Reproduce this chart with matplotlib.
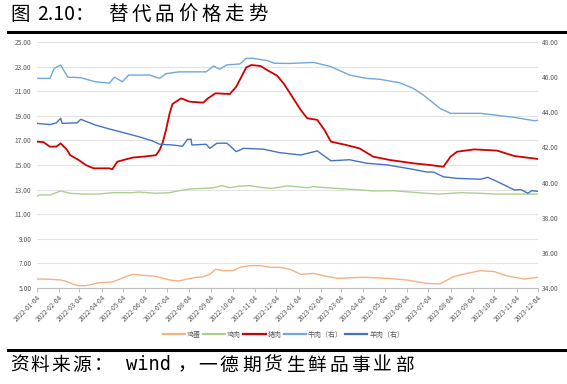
import pandas as pd
import matplotlib
matplotlib.use("Agg")
import matplotlib.pyplot as plt
from matplotlib.lines import Line2D

plt.rcParams['font.family'] = ['Noto Sans CJK SC', 'DejaVu Sans']

# values
egg_dates = ["2022-01-04", "2022-01-22", "2022-02-06", "2022-02-15", "2022-02-24", "2022-03-03",
             "2022-03-13", "2022-03-22", "2022-03-31", "2022-04-19", "2022-04-29", "2022-05-08",
             "2022-05-17", "2022-05-26", "2022-06-14", "2022-06-24", "2022-07-08", "2022-07-21",
             "2022-07-31", "2022-08-15", "2022-08-24", "2022-09-02", "2022-09-10", "2022-09-21",
             "2022-10-05", "2022-10-14", "2022-10-28", "2022-11-12", "2022-11-26", "2022-12-09",
             "2022-12-23", "2023-01-07", "2023-01-25", "2023-02-09", "2023-02-27", "2023-04-04",
             "2023-05-07", "2023-06-04", "2023-07-01", "2023-07-20", "2023-08-08", "2023-08-27",
             "2023-09-15", "2023-10-04", "2023-10-22", "2023-11-15", "2023-12-04"]
egg = [5.73, 5.71, 5.65, 5.51, 5.30, 5.19, 5.19, 5.30, 5.43, 5.49, 5.71, 5.92,
       6.11, 6.06, 5.98, 5.87, 5.65, 5.57, 5.71, 5.87, 5.92, 6.11, 6.52, 6.41,
       6.41, 6.68, 6.82, 6.82, 6.68, 6.68, 6.52, 6.11, 6.19, 5.98, 5.79, 5.87,
       5.79, 5.65, 5.38, 5.33, 5.92, 6.19, 6.41, 6.33, 5.98, 5.73, 5.87]

chicken_dates = ["2022-01-04", "2022-01-08", "2022-01-22", "2022-02-06", "2022-02-19", "2022-03-08",
                 "2022-03-31", "2022-04-19", "2022-05-17", "2022-05-26", "2022-06-19", "2022-07-08",
                 "2022-07-21", "2022-08-05", "2022-08-24", "2022-09-07", "2022-09-19", "2022-09-30",
                 "2022-10-14", "2022-10-28", "2022-11-12", "2022-11-26", "2022-12-09", "2022-12-18",
                 "2022-12-23", "2023-01-16", "2023-01-25", "2023-02-23", "2023-03-20", "2023-04-18",
                 "2023-05-16", "2023-06-13", "2023-07-01", "2023-07-20", "2023-08-18", "2023-09-15",
                 "2023-10-04", "2023-12-04"]
chicken = [12.48, 12.56, 12.56, 12.89, 12.70, 12.64, 12.64, 12.75, 12.75, 12.80, 12.70, 12.75,
           12.91, 13.05, 13.10, 13.15, 13.32, 13.15, 13.29, 13.32, 13.18, 13.10, 13.20, 13.29,
           13.29, 13.15, 13.24, 13.10, 13.02, 12.89, 12.91, 12.78, 12.70, 12.64, 12.75, 12.70,
           12.64, 12.64]

pork_dates = ["2022-01-04", "2022-01-13", "2022-01-22", "2022-01-31", "2022-02-06", "2022-02-15",
              "2022-02-19", "2022-03-03", "2022-03-13", "2022-03-24", "2022-04-15", "2022-04-19",
              "2022-04-26", "2022-05-17", "2022-06-05", "2022-06-19", "2022-06-24", "2022-06-28",
              "2022-07-03", "2022-07-08", "2022-07-12", "2022-07-24", "2022-08-05", "2022-08-24",
              "2022-08-30", "2022-09-10", "2022-09-30", "2022-10-09", "2022-10-23", "2022-10-30",
              "2022-11-12", "2022-11-21", "2022-12-05", "2022-12-14", "2022-12-23", "2023-01-07",
              "2023-01-16", "2023-01-30", "2023-02-09", "2023-02-18", "2023-03-11", "2023-03-30",
              "2023-04-18", "2023-05-11", "2023-06-13", "2023-07-06", "2023-07-25", "2023-08-04",
              "2023-08-13", "2023-09-06", "2023-10-08", "2023-11-01", "2023-12-04"]
pork = [16.90, 16.86, 16.49, 16.50, 16.76, 16.22, 15.81, 15.41, 15.00, 14.73, 14.73, 14.65,
        15.27, 15.60, 15.70, 15.80, 16.22, 16.76, 17.85, 19.20, 19.96, 20.42, 20.15, 20.07,
        20.40, 20.83, 20.77, 21.37, 22.94, 23.13, 23.05, 22.72, 22.26, 21.64, 20.83, 19.47,
        18.80, 18.67, 17.85, 16.90, 16.63, 16.35, 15.68, 15.41, 15.14, 15.00, 14.86, 15.68,
        16.08, 16.27, 16.17, 15.73, 15.49]

beef_dates = ["2022-01-04", "2022-01-22", "2022-01-28", "2022-02-06", "2022-02-16", "2022-03-06",
              "2022-03-26", "2022-04-15", "2022-04-22", "2022-05-03", "2022-05-12", "2022-06-10",
              "2022-06-24", "2022-07-03", "2022-07-21", "2022-08-28", "2022-09-07", "2022-09-16",
              "2022-09-26", "2022-10-14", "2022-10-23", "2022-11-02", "2022-11-12", "2022-11-21",
              "2022-12-01", "2022-12-23", "2023-01-25", "2023-02-18", "2023-03-16", "2023-04-09",
              "2023-04-27", "2023-05-25", "2023-06-13", "2023-06-27", "2023-07-20", "2023-08-04",
              "2023-09-15", "2023-11-01", "2023-11-29", "2023-12-04"]
beef = [45.93, 45.93, 46.50, 46.69, 46.00, 45.97, 45.74, 45.66, 46.00, 45.74, 46.12, 46.12,
        45.93, 46.20, 46.30, 46.30, 46.63, 46.45, 46.70, 46.75, 47.07, 47.07, 47.00, 46.95,
        46.79, 46.78, 46.84, 46.60, 46.12, 45.93, 45.88, 45.68, 45.36, 44.98, 44.23, 43.94,
        43.94, 43.71, 43.52, 43.55]

mutton_dates = ["2022-01-04", "2022-01-22", "2022-01-31", "2022-02-06", "2022-02-08", "2022-03-01",
                "2022-03-06", "2022-03-26", "2022-04-15", "2022-05-03", "2022-05-26", "2022-06-14",
                "2022-06-24", "2022-07-12", "2022-07-26", "2022-08-02", "2022-08-07", "2022-08-08",
                "2022-08-28", "2022-09-02", "2022-09-12", "2022-09-26", "2022-10-09", "2022-10-19",
                "2022-11-16", "2022-12-09", "2023-01-07", "2023-01-30", "2023-02-18", "2023-03-16",
                "2023-04-09", "2023-05-07", "2023-06-13", "2023-07-02", "2023-07-11", "2023-07-25",
                "2023-08-13", "2023-09-15", "2023-09-25", "2023-10-13", "2023-11-01", "2023-11-10",
                "2023-11-20", "2023-11-25", "2023-12-04"]
mutton = [43.37, 43.30, 43.40, 43.66, 43.37, 43.40, 43.60, 43.28, 43.05, 42.86, 42.61, 42.37,
          42.18, 42.14, 42.07, 42.46, 42.46, 42.14, 42.18, 41.95, 42.24, 42.24, 41.76, 41.95,
          41.90, 41.70, 41.57, 41.80, 41.24, 41.30, 41.10, 41.01, 40.75, 40.60, 40.60, 40.33,
          40.24, 40.19, 40.30, 39.96, 39.58, 39.60, 39.39, 39.54, 39.50]

series_names = ["鸡蛋", "鸡肉", "猪肉", "牛肉（右）", "羊肉（右）"]
colors = ["#F4B183", "#A9D18E", "#D00000", "#6FA8DC", "#4472C4"]
x_ticks = pd.date_range("2022-01-01", "2023-12-01", freq="MS") + pd.Timedelta(days=3)

W, H = 567, 384
fig = plt.figure(figsize=(5.67, 3.84), dpi=100)
ax = fig.add_axes([0.0653, 0.25, 0.8836, 0.6406])
ax2 = ax.twinx()

ax.plot(pd.to_datetime(egg_dates), egg, color=colors[0], lw=1.0)
ax.plot(pd.to_datetime(chicken_dates), chicken, color=colors[1], lw=1.0)
ax.plot(pd.to_datetime(pork_dates), pork, color=colors[2], lw=1.3)
ax2.plot(pd.to_datetime(beef_dates), beef, color=colors[3], lw=1.0)
ax2.plot(pd.to_datetime(mutton_dates), mutton, color=colors[4], lw=1.0)

ax.set_ylim(5, 25)
ax.set_yticks(range(5, 26, 2))
ax.set_yticklabels([f"{v:.2f}" for v in range(5, 26, 2)])
ax2.set_ylim(34, 48)
ax2.set_yticks(range(34, 49, 2))
ax2.set_yticklabels([f"{v:.2f}" for v in range(34, 49, 2)])

ax.set_xlim(x_ticks[0], x_ticks[-1])
ax.set_xticks(x_ticks)
ax.set_xticklabels([d.strftime("%Y-%m-%d") for d in x_ticks], rotation=45,
                   ha="right", rotation_mode="anchor")

ax.grid(axis="y", color="#E3E3E3", lw=0.8)
ax.set_axisbelow(True)
for a in (ax, ax2):
    for s in a.spines.values():
        s.set_visible(False)
ax.spines["bottom"].set_visible(True)
ax.spines["bottom"].set_color("#BFBFBF")
ax.spines["bottom"].set_linewidth(0.8)

ax.tick_params(axis="y", length=0, labelsize=4.8, labelcolor="#595959", pad=4)
ax2.tick_params(axis="y", length=0, labelsize=4.8, labelcolor="#595959", pad=3)
ax.tick_params(axis="x", length=3, color="#BFBFBF", labelsize=4.8, labelcolor="#595959", pad=1)

handles = [Line2D([], [], color=c, lw=1.6) for c in colors]
fig.legend(handles, series_names, loc="center", bbox_to_anchor=(0.5, 0.128), ncol=5,
           frameon=False, fontsize=5, handlelength=3.2, handletextpad=0.3, columnspacing=0.3,
           labelcolor="#595959")

# title and source are typeset with wide letter spacing in the original
def spaced(chunks, y, size):
    for txt, xpx in chunks:
        fam = ["DejaVu Sans Mono"] if txt.isascii() and txt.isalpha() else None
        fig.text(xpx / W, 1 - y / H, txt, fontsize=size, va="center", ha="left", family=fam)

title_chunks = [("图", 10), ("2.10", 37), ("：", 75)] + \
    [(c, 108 + i * 23.3) for i, c in enumerate("替代品价格走势")]
source_chunks = [(c, 10 + i * 20.7) for i, c in enumerate("资料来源")] + \
    [("：", 94), ("wind", 126), ("，", 178)] + \
    [(c, 198 + i * 21.9) for i, c in enumerate("一德期货生鲜品事业部")]
spaced(title_chunks, 14, 14)
spaced(source_chunks, 365, 13.5)

fig.add_artist(Line2D([0.014, 1.0], [1 - 32 / H, 1 - 32 / H], color="black", lw=2.2))
fig.add_artist(Line2D([0.014, 0.997], [1 - 350 / H, 1 - 350 / H], color="black", lw=2.2))

fig.savefig("out.png", dpi=100)
